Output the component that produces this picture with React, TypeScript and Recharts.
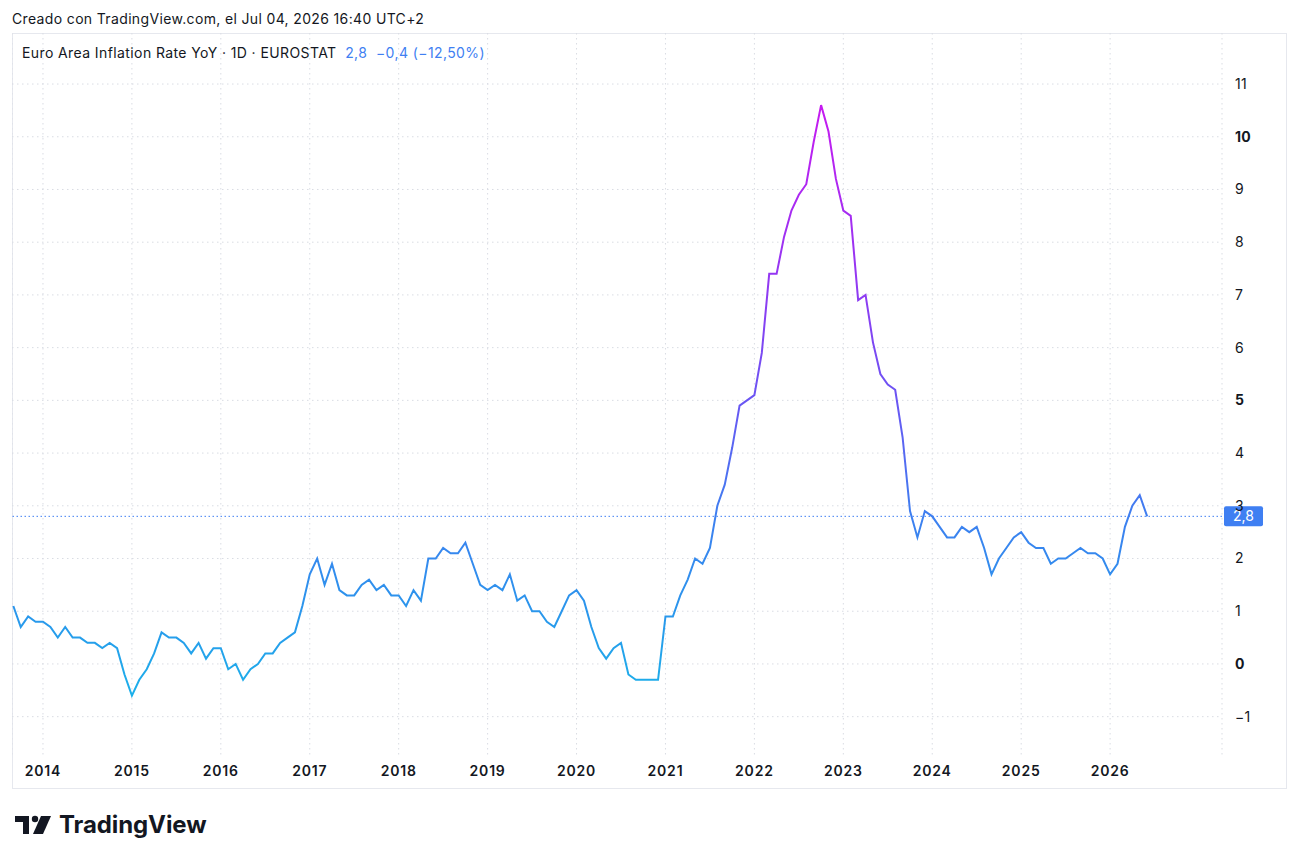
import React from 'react';
import {
    LineChart,
    Line,
    XAxis,
    YAxis,
    CartesianGrid,
    ReferenceLine,
} from 'recharts';

// month index: 0 = Jan 2014, series starts Sep 2013
const START_MONTH = -4;

const inflation = [
    // 2013 (Sep-Dec)
    1.1, 0.7, 0.9, 0.8,
    // 2014
    0.8, 0.7, 0.5, 0.7, 0.5, 0.5, 0.4, 0.4, 0.3, 0.4, 0.3, -0.2,
    // 2015
    -0.6, -0.3, -0.1, 0.2, 0.6, 0.5, 0.5, 0.4, 0.2, 0.4, 0.1, 0.3,
    // 2016
    0.3, -0.1, 0.0, -0.3, -0.1, 0.0, 0.2, 0.2, 0.4, 0.5, 0.6, 1.1,
    // 2017
    1.7, 2.0, 1.5, 1.9, 1.4, 1.3, 1.3, 1.5, 1.6, 1.4, 1.5, 1.3,
    // 2018
    1.3, 1.1, 1.4, 1.2, 2.0, 2.0, 2.2, 2.1, 2.1, 2.3, 1.9, 1.5,
    // 2019
    1.4, 1.5, 1.4, 1.7, 1.2, 1.3, 1.0, 1.0, 0.8, 0.7, 1.0, 1.3,
    // 2020
    1.4, 1.2, 0.7, 0.3, 0.1, 0.3, 0.4, -0.2, -0.3, -0.3, -0.3, -0.3,
    // 2021
    0.9, 0.9, 1.3, 1.6, 2.0, 1.9, 2.2, 3.0, 3.4, 4.1, 4.9, 5.0,
    // 2022
    5.1, 5.9, 7.4, 7.4, 8.1, 8.6, 8.9, 9.1, 9.9, 10.6, 10.1, 9.2,
    // 2023
    8.6, 8.5, 6.9, 7.0, 6.1, 5.5, 5.3, 5.2, 4.3, 2.9, 2.4, 2.9,
    // 2024
    2.8, 2.6, 2.4, 2.4, 2.6, 2.5, 2.6, 2.2, 1.7, 2.0, 2.2, 2.4,
    // 2025
    2.5, 2.3, 2.2, 2.2, 1.9, 2.0, 2.0, 2.1, 2.2, 2.1, 2.1, 2.0,
    // 2026
    1.7, 1.9, 2.6, 3.0, 3.2, 2.8,
];

const yearTicks = [0, 12, 24, 36, 48, 60, 72, 84, 96, 108, 120, 132, 144];
const valueTicks = [-1, 0, 1, 2, 3, 4, 5, 6, 7, 8, 9, 10, 11];
const boldValues = [0, 5, 10];

const lastValue = 2.8;
const lastLabel = '2,8';
const changeLabel = '\u22120,4 (\u221212,50%)';

const data = inflation.map((v, i) => ({ t: START_MONTH + i, v }));

const FONT = 'Inter, "Noto Sans", "DejaVu Sans", sans-serif';
const TEXT = '#131722';
const BLUE = '#3f7ff2';
const GRID = '#d9dce3';

const fmtNum = (n: number) => (n < 0 ? '\u2212' + Math.abs(n) : String(n));

function YTick(props: any) {
    const { x, y, payload } = props;
    const bold = boldValues.includes(payload.value);
    return (
        <text
            x={x}
            y={y}
            dy="0.35em"
            textAnchor="start"
            fill={TEXT}
            fontSize={14}
            fontWeight={bold ? 700 : 400}
            fontFamily={FONT}
            letterSpacing={0.3}
        >
            {fmtNum(payload.value)}
        </text>
    );
}

function PriceLabel(props: any) {
    const vb = props.viewBox || {};
    const bx = vb.x + vb.width + 2;
    const by = vb.y - 10;
    return (
        <g>
            <rect x={bx} y={by} width={39} height={20} rx={2} fill={BLUE} />
            <text
                x={bx + 19.5}
                y={vb.y}
                dy="0.36em"
                textAnchor="middle"
                fill="#ffffff"
                fontSize={14}
                fontFamily={FONT}
            >
                {lastLabel}
            </text>
        </g>
    );
}

function Logo() {
    return (
        <div style={{ position: 'absolute', left: 15, top: 810, display: 'flex', alignItems: 'center' }}>
            <svg width="38" height="22" viewBox="0 0 38 22">
                <path d="M0 2h14v18H8V8H0z" fill={TEXT} />
                <circle cx="20" cy="5" r="3.2" fill={TEXT} />
                <path d="M26 2h10l-8 18h-10z" fill={TEXT} />
            </svg>
            <span style={{ marginLeft: 6, fontSize: 24, fontWeight: 700, color: TEXT, fontFamily: FONT, letterSpacing: -0.1 }}>
                TradingView
            </span>
        </div>
    );
}

export default function App() {
    return (
        <div style={{ position: 'absolute', left: 0, top: 0, width: 1299, height: 863, background: '#ffffff', fontFamily: FONT }}>
            <div style={{ position: 'absolute', left: 12, top: 10, fontSize: 14, letterSpacing: 0.35, color: TEXT }}>
                Creado con TradingView.com, el Jul 04, 2026 16:40 UTC+2
            </div>

            <div style={{ position: 'absolute', left: 12, top: 33, width: 1275, height: 756, boxSizing: 'border-box', border: '1px solid #e6e8ee' }} />

            <div style={{ position: 'absolute', left: 12, top: 33 }}>
                <LineChart width={1275} height={756} data={data} margin={{ top: 0, right: 0, left: 0, bottom: 0 }}>
                    <defs>
                        <linearGradient id="inflGrad" x1="0" y1="0" x2="0" y2="1">
                            <stop offset="0%" stopColor="#c61af0" />
                            <stop offset="30%" stopColor="#9238f2" />
                            <stop offset="50%" stopColor="#6a55f3" />
                            <stop offset="70%" stopColor="#3d80f0" />
                            <stop offset="85%" stopColor="#2b95ec" />
                            <stop offset="100%" stopColor="#1cb0ea" />
                        </linearGradient>
                    </defs>
                    <CartesianGrid stroke={GRID} strokeDasharray="1.5 3.5" horizontalValues={valueTicks} />
                    <XAxis
                        dataKey="t"
                        type="number"
                        domain={[-4.18, 159.1]}
                        allowDataOverflow
                        ticks={yearTicks}
                        tickFormatter={(t: number) => String(2014 + t / 12)}
                        axisLine={false}
                        tickLine={false}
                        tickSize={0}
                        tickMargin={9}
                        height={32}
                        tick={{ fill: TEXT, fontSize: 14, fontWeight: 600, fontFamily: FONT, letterSpacing: 0.8 }}
                    />
                    <YAxis
                        orientation="right"
                        type="number"
                        domain={[-1.765, 11.968]}
                        allowDataOverflow
                        ticks={valueTicks}
                        axisLine={false}
                        tickLine={false}
                        tickSize={0}
                        tickMargin={13}
                        width={65}
                        tick={<YTick />}
                    />
                    <Line
                        type="linear"
                        dataKey="v"
                        stroke="url(#inflGrad)"
                        strokeWidth={2}
                        dot={false}
                        activeDot={false}
                        isAnimationActive={false}
                    />
                    <ReferenceLine
                        y={lastValue}
                        stroke={BLUE}
                        strokeWidth={1}
                        strokeDasharray="1.5 2.5"
                        label={<PriceLabel />}
                    />
                </LineChart>

                <div style={{ position: 'absolute', left: 10, top: 11, fontSize: 14, letterSpacing: 0.4, color: TEXT, whiteSpace: 'pre' }}>
                    Euro Area Inflation Rate YoY · 1D · EUROSTAT
                    <span style={{ color: BLUE }}>{'  ' + lastLabel + '  ' + changeLabel}</span>
                </div>
            </div>

            <Logo />
        </div>
    );
}
